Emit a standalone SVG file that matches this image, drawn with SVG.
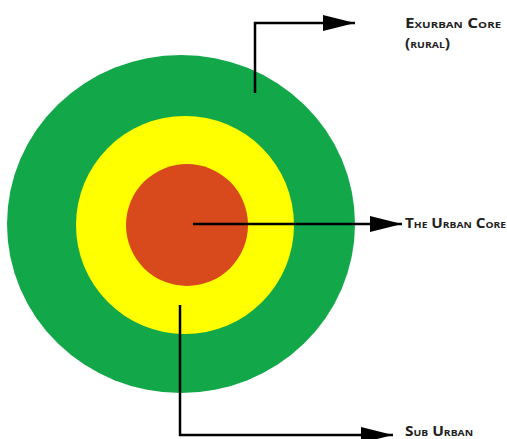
<svg xmlns="http://www.w3.org/2000/svg" width="507" height="439" viewBox="0 0 507 439">
<style>
.lbl{font-family:"Open Sans","Liberation Sans",sans-serif;font-weight:bold;font-variant:small-caps;font-size:13.5px;fill:#222}
.con{stroke:#000;stroke-width:2.5;fill:none}
</style>
<defs>
<marker id="ah" viewBox="0 0 32 16" refX="32" refY="8" markerWidth="32" markerHeight="16" markerUnits="userSpaceOnUse" orient="auto">
<path d="M0,0 L32,8 L0,16 Z" fill="#000"/>
</marker>
</defs>
<rect width="507" height="439" fill="#fff"/>
<g id="exurban"><ellipse cx="181" cy="224" rx="174" ry="169" fill="#12a84a"/></g>
<g id="suburban"><ellipse cx="185" cy="225" rx="109" ry="109" fill="#ffff00"/></g>
<g id="urban-core"><circle cx="187" cy="225" r="61" fill="#d84a1b"/></g>
<g id="connectors">
<path class="con" d="M255,93 V23 H355" marker-end="url(#ah)"/>
<path class="con" d="M193,224 H402" marker-end="url(#ah)"/>
<path class="con" d="M180,305 V435 H393" marker-end="url(#ah)"/>
</g>
<g id="labels">
<text class="lbl" x="405" y="28" textLength="96" lengthAdjust="spacingAndGlyphs">Exurban Core</text>
<text class="lbl" x="405" y="48" textLength="45" lengthAdjust="spacingAndGlyphs">(rural)</text>
<text class="lbl" x="405" y="228" textLength="101" lengthAdjust="spacingAndGlyphs">The Urban Core</text>
<text class="lbl" x="405" y="436" textLength="68" lengthAdjust="spacingAndGlyphs">Sub Urban</text>
</g>
</svg>
